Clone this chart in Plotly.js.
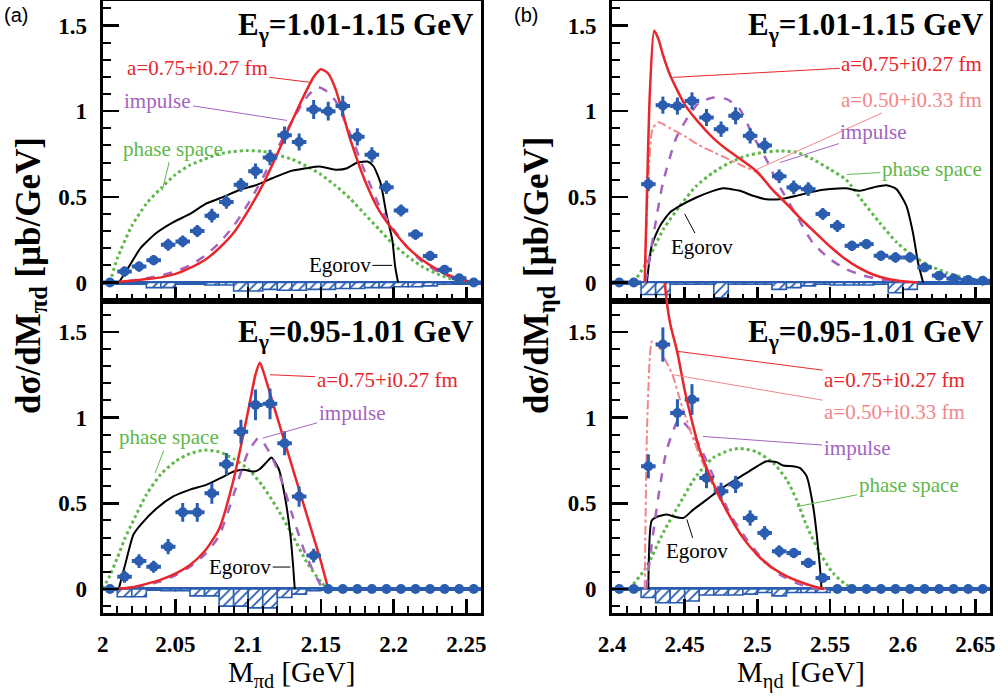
<!DOCTYPE html>
<html><head><meta charset="utf-8">
<script src="https://cdn.plot.ly/plotly-3.0.1.min.js"></script>
<style>body{margin:0;background:#fff}#plot{width:1008px;height:697px}</style>
</head><body><div id="plot"></div>
<script>
// ---------- data: bin centres ----------
const binsPi = [2.005,2.015,2.025,2.035,2.045,2.055,2.065,2.075,2.085,2.095,2.105,2.115,2.125,2.135,2.145,2.155,2.165,2.175,2.185,2.195,2.205,2.215,2.225,2.235,2.245,2.255];
const binsEta = [2.405,2.415,2.425,2.435,2.445,2.455,2.465,2.475,2.485,2.495,2.505,2.515,2.525,2.535,2.545,2.555,2.565,2.575,2.585,2.595,2.605,2.615,2.625,2.635,2.645,2.655];

// (a) upper: E=1.01-1.15 GeV
const dataA1 = [0,0.064,0.093,0.13,0.22,0.24,0.30,0.39,0.47,0.57,0.65,0.73,0.86,0.82,1.01,1.00,1.03,0.85,0.745,0.556,0.42,0.28,0.155,0.074,0.025,0];
const errA1  = [0,0.03,0.03,0.03,0.035,0.035,0.035,0.04,0.04,0.04,0.045,0.045,0.05,0.05,0.055,0.055,0.06,0.05,0.045,0.04,0.035,0.03,0.03,0.025,0.02,0];
const sysA1  = [0,0,0,0.03,0.03,0.005,0.005,0.015,0.015,0.05,0.05,0.04,0.045,0.045,0.04,0.04,0.035,0.035,0.03,0.03,0.025,0.025,0.02,0.01,0,0];
// (a) lower: E=0.95-1.01 GeV
const dataA2 = [0,0.072,0.163,0.13,0.247,0.447,0.447,0.558,0.728,0.918,1.074,1.08,0.85,0.54,0.195,0,0,0,0,0,0,0,0,0,0,0];
const errA2  = [0,0.035,0.04,0.035,0.045,0.055,0.055,0.06,0.065,0.07,0.09,0.09,0.07,0.06,0.04,0,0,0,0,0,0,0,0,0,0,0];
const sysA2  = [0,0.045,0.045,0,0.01,0.01,0.04,0.04,0.1,0.1,0.11,0.11,0.05,0.03,0.01,0,0,0,0,0,0,0,0,0,0,0];
// (b) upper
const dataB1 = [0,0,0.574,1.035,1.03,1.06,0.963,0.895,0.973,0.856,0.80,0.62,0.555,0.545,0.40,0.33,0.214,0.224,0.156,0.146,0.146,0.088,0.04,0.023,0.015,0.01];
const errB1  = [0,0,0.04,0.05,0.05,0.05,0.05,0.045,0.05,0.045,0.045,0.04,0.04,0.04,0.035,0.035,0.03,0.03,0.03,0.03,0.03,0.025,0.02,0.015,0.01,0.01];
const sysB1  = [0,0,0.07,0.07,0.01,0.01,0.01,0.09,0.01,0.01,0.01,0.04,0.03,0.02,0.01,0.015,0.015,0.015,0.01,0.06,0.04,0,0,0,0,0];
// (b) lower
const dataB2 = [0,0,0.716,1.426,1.027,1.105,0.648,0.57,0.61,0.414,0.327,0.22,0.21,0.152,0.064,0,0,0,0,0,0,0,0,0,0,0];
const errB2  = [0,0,0.07,0.1,0.08,0.09,0.06,0.05,0.05,0.045,0.04,0.035,0.03,0.03,0.025,0,0,0,0,0,0,0,0,0,0,0];
const sysB2  = [0,0,0.05,0.08,0.08,0.07,0.035,0.035,0.035,0.03,0.02,0.04,0.02,0.02,0.02,0,0,0,0,0,0,0,0,0,0,0];

// ---------- theory curves ----------
// (a) upper
const redA1x = [2.007,2.02,2.03,2.04,2.05,2.06,2.07,2.08,2.09,2.10,2.11,2.12,2.13,2.14,2.145,2.15,2.155,2.16,2.17,2.18,2.19,2.20,2.21,2.22,2.23,2.24,2.25,2.256];
const redA1y = [0,0.01,0.02,0.03,0.05,0.085,0.13,0.20,0.29,0.42,0.57,0.75,0.94,1.12,1.20,1.245,1.22,1.13,0.84,0.60,0.42,0.30,0.20,0.13,0.075,0.035,0.01,0];
const impA1x = [2.005,2.01,2.02,2.03,2.04,2.05,2.06,2.07,2.08,2.09,2.10,2.11,2.12,2.13,2.14,2.148,2.155,2.16,2.17,2.18,2.19,2.20,2.21,2.22,2.23,2.24,2.25,2.256];
const impA1y = [0,0.003,0.012,0.025,0.04,0.065,0.10,0.155,0.23,0.33,0.46,0.61,0.78,0.94,1.08,1.14,1.11,1.06,0.87,0.65,0.45,0.31,0.20,0.12,0.065,0.03,0.008,0];
const psA1x  = [2.005,2.01,2.02,2.03,2.04,2.05,2.06,2.07,2.08,2.09,2.10,2.11,2.12,2.13,2.14,2.15,2.16,2.17,2.18,2.19,2.20,2.21,2.22,2.23,2.24,2.25,2.256];
const psA1y  = [0,0.14,0.33,0.46,0.55,0.63,0.685,0.72,0.75,0.765,0.77,0.765,0.745,0.72,0.68,0.63,0.565,0.49,0.40,0.31,0.22,0.15,0.09,0.05,0.02,0.005,0];
const egA1x  = [2.011,2.015,2.02,2.026,2.037,2.048,2.06,2.071,2.083,2.094,2.106,2.117,2.129,2.14,2.149,2.161,2.168,2.175,2.182,2.186,2.191,2.195,2.199,2.201,2.203];
const egA1y  = [0,0.05,0.12,0.2,0.29,0.35,0.40,0.46,0.50,0.54,0.57,0.61,0.65,0.667,0.677,0.658,0.667,0.70,0.706,0.68,0.58,0.40,0.25,0.093,0];
// (a) lower
const redA2x = [2.01,2.02,2.03,2.04,2.05,2.06,2.07,2.08,2.09,2.10,2.105,2.108,2.11,2.12,2.13,2.14,2.15,2.155];
const redA2y = [0,0.01,0.03,0.055,0.09,0.14,0.22,0.35,0.64,1.04,1.25,1.32,1.28,1.0,0.72,0.44,0.16,0];
const impA2x = [2.01,2.02,2.03,2.04,2.05,2.06,2.07,2.08,2.09,2.10,2.107,2.11,2.115,2.12,2.125,2.13,2.14,2.15,2.152];
const impA2y = [0,0.01,0.025,0.045,0.08,0.13,0.2,0.31,0.55,0.80,0.88,0.86,0.79,0.70,0.58,0.44,0.19,0.02,0];
const psA2x  = [2.0,2.005,2.01,2.015,2.02,2.03,2.04,2.05,2.06,2.07,2.08,2.09,2.10,2.11,2.12,2.13,2.14,2.15,2.155];
const psA2y  = [0,0.08,0.18,0.29,0.38,0.55,0.67,0.745,0.79,0.81,0.80,0.76,0.70,0.60,0.47,0.32,0.16,0.04,0];
const egA2x  = [2.011,2.016,2.021,2.026,2.037,2.0485,2.06,2.071,2.083,2.09,2.097,2.104,2.108,2.113,2.116,2.121,2.125,2.129,2.131,2.132];
const egA2y  = [0,0.16,0.315,0.374,0.47,0.54,0.58,0.607,0.656,0.685,0.695,0.685,0.70,0.743,0.767,0.70,0.55,0.315,0.12,0];
// (b) upper
const redB1x = [2.4225,2.424,2.426,2.429,2.432,2.435,2.44,2.45,2.46,2.47,2.48,2.49,2.50,2.51,2.52,2.53,2.54,2.55,2.56,2.57,2.58,2.59,2.60,2.61];
const redB1y = [0,0.5,1.1,1.47,1.42,1.33,1.21,1.04,0.93,0.84,0.77,0.71,0.645,0.545,0.46,0.37,0.29,0.21,0.14,0.085,0.045,0.02,0.007,0];
const pnkB1x = [2.4225,2.425,2.428,2.432,2.44,2.45,2.46,2.47,2.48,2.49,2.50,2.51,2.52,2.53,2.54,2.55,2.56,2.57,2.58,2.59,2.60,2.61];
const pnkB1y = [0,0.6,0.9,0.935,0.90,0.855,0.80,0.76,0.72,0.68,0.64,0.545,0.46,0.375,0.29,0.21,0.14,0.085,0.045,0.02,0.007,0];
const impB1x = [2.423,2.43,2.435,2.444,2.454,2.46,2.47,2.479,2.488,2.497,2.506,2.515,2.527,2.538,2.55,2.561,2.573,2.584,2.595,2.607];
const impB1y = [0,0.35,0.58,0.84,0.99,1.05,1.08,1.07,1.01,0.856,0.72,0.564,0.39,0.233,0.136,0.078,0.04,0.02,0.008,0];
const psB1x  = [2.415,2.4238,2.4353,2.4467,2.458,2.4696,2.481,2.4926,2.504,2.5155,2.527,2.538,2.55,2.561,2.573,2.584,2.596,2.607,2.6186,2.63,2.6415,2.653,2.66];
const psB1y  = [0,0.117,0.31,0.447,0.564,0.642,0.70,0.74,0.76,0.768,0.76,0.72,0.66,0.60,0.467,0.35,0.233,0.156,0.097,0.058,0.03,0.01,0.005];
const egB1x  = [2.424,2.4273,2.433,2.44,2.4467,2.458,2.4696,2.4765,2.488,2.497,2.506,2.5155,2.527,2.538,2.55,2.561,2.5704,2.5796,2.5888,2.5956,2.6025,2.607,2.6105,2.614];
const egB1y  = [0,0.214,0.33,0.41,0.447,0.496,0.535,0.55,0.535,0.506,0.486,0.486,0.506,0.53,0.545,0.55,0.535,0.555,0.568,0.545,0.447,0.29,0.117,0];
// (b) lower
const redB2x = [2.4362,2.4375,2.44,2.445,2.45,2.455,2.46,2.47,2.48,2.49,2.50,2.51,2.52,2.53,2.54,2.546];
const redB2y = [1.80,1.69,1.55,1.38,1.16,0.98,0.82,0.61,0.44,0.30,0.20,0.125,0.075,0.04,0.012,0];
const pnkB2x = [2.4225,2.424,2.426,2.4275,2.431,2.4353,2.442,2.4467,2.4536,2.4605,2.4696,2.481,2.4926,2.504,2.5155,2.527,2.538,2.547];
const pnkB2y = [0,0.9,1.35,1.445,1.43,1.36,1.24,1.105,0.93,0.774,0.60,0.424,0.27,0.16,0.093,0.045,0.012,0];
const impB2x = [2.4235,2.4284,2.433,2.4376,2.4444,2.4467,2.4536,2.4605,2.4696,2.481,2.4926,2.504,2.5155,2.527,2.538,2.543];
const impB2y = [0,0.33,0.60,0.81,0.97,0.99,0.93,0.83,0.66,0.44,0.29,0.17,0.084,0.035,0.006,0];
const psB2x  = [2.412,2.4238,2.4353,2.4467,2.458,2.4696,2.481,2.488,2.4995,2.511,2.52,2.527,2.534,2.543,2.552,2.561,2.568];
const psB2y  = [0,0.13,0.33,0.50,0.66,0.765,0.81,0.82,0.80,0.735,0.64,0.52,0.366,0.21,0.093,0.025,0];
const egB2x  = [2.425,2.4273,2.4307,2.4376,2.4421,2.449,2.4559,2.465,2.4742,2.4834,2.4926,2.5017,2.5063,2.5132,2.5178,2.5246,2.5292,2.5338,2.5384,2.5407,2.543,2.5441];
const egB2y  = [0,0.40,0.42,0.434,0.424,0.414,0.463,0.52,0.58,0.63,0.677,0.726,0.745,0.74,0.72,0.716,0.706,0.66,0.48,0.327,0.13,0];

// ---------- text ----------
const labRed = 'a=0.75+i0.27 fm', labPink = 'a=0.50+i0.33 fm', labImp = 'impulse', labPs = 'phase space', labEg = 'Egorov';
const panelE = ['E<sub>γ</sub>=1.01-1.15 GeV', 'E<sub>γ</sub>=0.95-1.01 GeV'];

// ---------- styles ----------
const BLUE = '#2a5db0', RED = '#e8262b', PURP = '#a463bd', GRN = '#5fb84a', PINK = '#f2868a';
const serif = 'Liberation Serif, Times New Roman, serif';

function curve(x, y, xa, ya, color, dash, width) {
  return {type:'scatter', mode:'lines', x:x, y:y, xaxis:xa, yaxis:ya,
          line:{color:color, dash:dash, width:width, shape:'spline', smoothing:0.6}, hoverinfo:'skip'};
}
function sys(bins, s, xa, ya) {
  return {type:'bar', x:bins, y:s.map(v=>-v), width:0.01, xaxis:xa, yaxis:ya,
          marker:{color:'white', line:{color:BLUE, width:1.6},
                  pattern:{shape:'/', fgcolor:BLUE, bgcolor:'white', size:7, solidity:0.25}}};
}
function pts(bins, d, e, xa, ya) {
  return {type:'scatter', mode:'markers', x:bins, y:d, xaxis:xa, yaxis:ya,
          marker:{size:10, color:BLUE},
          error_x:{type:'constant', value:0.005, thickness:4, width:0, color:BLUE},
          error_y:{type:'data', array:e, thickness:3, width:0, color:BLUE}};
}

const traces = [
  sys(binsPi, sysA1, 'x', 'y'), sys(binsEta, sysB1, 'x2', 'y2'),
  sys(binsPi, sysA2, 'x3', 'y3'), sys(binsEta, sysB2, 'x4', 'y4'),
  // (a) upper
  curve(psA1x, psA1y, 'x', 'y', GRN, 'dot', 3),
  curve(egA1x, egA1y, 'x', 'y', 'black', 'solid', 2),
  curve(impA1x, impA1y, 'x', 'y', PURP, 'dash', 2.5),
  curve(redA1x, redA1y, 'x', 'y', RED, 'solid', 2.5),
  // (b) upper
  curve(psB1x, psB1y, 'x2', 'y2', GRN, 'dot', 3),
  curve(egB1x, egB1y, 'x2', 'y2', 'black', 'solid', 2),
  curve(impB1x, impB1y, 'x2', 'y2', PURP, 'dash', 2.5),
  curve(pnkB1x, pnkB1y, 'x2', 'y2', PINK, 'dashdot', 2),
  curve(redB1x, redB1y, 'x2', 'y2', RED, 'solid', 2.5),
  // (a) lower
  curve(psA2x, psA2y, 'x3', 'y3', GRN, 'dot', 3),
  curve(egA2x, egA2y, 'x3', 'y3', 'black', 'solid', 2),
  curve(impA2x, impA2y, 'x3', 'y3', PURP, 'dash', 2.5),
  curve(redA2x, redA2y, 'x3', 'y3', RED, 'solid', 2.5),
  // (b) lower
  curve(psB2x, psB2y, 'x4', 'y4', GRN, 'dot', 3),
  curve(egB2x, egB2y, 'x4', 'y4', 'black', 'solid', 2),
  curve(impB2x, impB2y, 'x4', 'y4', PURP, 'dash', 2.5),
  curve(pnkB2x, pnkB2y, 'x4', 'y4', PINK, 'dashdot', 2),
  curve(redB2x, redB2y, 'x4', 'y5', RED, 'solid', 2.5),
  pts(binsPi, dataA1, errA1, 'x', 'y'), pts(binsEta, dataB1, errB1, 'x2', 'y2'),
  pts(binsPi, dataA2, errA2, 'x3', 'y3'), pts(binsEta, dataB2, errB2, 'x4', 'y4')
];

// ---------- layout ----------
const W = 1008, H = 697;
const px = v => v / W, py = v => 1 - v / H;
const domL = [px(102.7), px(481)], domR = [px(612), px(990)];
const domT = [py(301), py(1)], domB = [py(613), py(301)];
const tickFont = {family:serif, size:23, color:'black', weight:'bold'};
function xa(dom, anchor, r0, showLabels) {
  return {domain:dom, anchor:anchor, range:[r0, r0 + 0.26], showline:true, linecolor:'black', linewidth:3, mirror:true,
          ticks:'inside', ticklen:14, tickwidth:2.5, tickcolor:'black', tick0:r0, dtick:0.05,
          minor:{ticks:'inside', ticklen:7, tickwidth:2, tickcolor:'black', dtick:0.01, tick0:r0, showgrid:false},
          showgrid:false, zeroline:false, showticklabels:showLabels, tickfont:tickFont, ticklabelstandoff:8,
          fixedrange:true};
}
function ya(dom, anchor, range) {
  return {domain:dom, anchor:anchor, range:range, showline:true, linecolor:'black', linewidth:3, mirror:true,
          ticks:'inside', ticklen:16, tickwidth:2.5, tickcolor:'black', tick0:0, dtick:0.5,
          minor:{ticks:'inside', ticklen:8, tickwidth:2, tickcolor:'black', dtick:0.1, tick0:0, showgrid:false},
          showgrid:false, zeroline:true, zerolinecolor:BLUE, zerolinewidth:4,
          tickfont:tickFont, ticklabelstandoff:8, fixedrange:true};
}
const rT = [-0.108, 1.643], rB = [-0.14, 1.68];

function lab(text, color, xref, yref, ax, ay, x, y) {
  return {text:text, font:{family:serif, size:21, color:color}, xref:xref, yref:yref, axref:xref, ayref:yref,
          x:x, y:y, ax:ax, ay:ay, showarrow:true, arrowhead:0, arrowwidth:1, arrowcolor:color, standoff:0};
}
const annotations = [
  // (a) upper
  lab(labRed, RED, 'x', 'y', 2.065, 1.25, 2.1438, 1.167),
  lab(labImp, PURP, 'x', 'y', 2.038, 1.062, 2.1267, 0.946),
  lab(labPs, GRN, 'x', 'y', 2.048, 0.782, 2.0409, 0.537),
  lab(labEg, 'black', 'x', 'y', 2.163, 0.10, 2.199, 0.10),
  // (a) lower
  lab(labRed, RED, 'x3', 'y3', 2.1955, 1.22, 2.115, 1.25),
  lab(labImp, PURP, 'x3', 'y3', 2.1715, 1.027, 2.110, 0.88),
  lab(labPs, GRN, 'x3', 'y3', 2.0456, 0.887, 2.036, 0.677),
  lab(labEg, 'black', 'x3', 'y3', 2.0945, 0.128, 2.129, 0.128),
  // (b) upper
  lab(labRed, RED, 'x2', 'y2', 2.6062, 1.273, 2.442, 1.197),
  lab(labPink, PINK, 'x2', 'y2', 2.6062, 1.068, 2.4997, 0.66),
  lab(labImp, PURP, 'x2', 'y2', 2.58, 0.876, 2.5155, 0.70),
  lab(labPs, GRN, 'x2', 'y2', 2.62, 0.66, 2.5615, 0.63),
  lab(labEg, 'black', 'x2', 'y2', 2.462, 0.21, 2.450, 0.40),
  // (b) lower
  lab(labRed, RED, 'x4', 'y4', 2.5945, 1.222, 2.4454, 1.386),
  lab(labPink, PINK, 'x4', 'y4', 2.5945, 1.03, 2.4412, 1.251),
  lab(labImp, PURP, 'x4', 'y4', 2.5686, 0.825, 2.4625, 0.89),
  lab(labPs, GRN, 'x4', 'y4', 2.604, 0.609, 2.527, 0.48),
  lab(labEg, 'black', 'x4', 'y4', 2.4584, 0.219, 2.4515, 0.406),
  // panel energy labels
  {text:'<b>'+panelE[0]+'</b>', xref:'paper', yref:'paper', x:px(476), y:py(27), xanchor:'right', yanchor:'middle', showarrow:false, font:{family:serif, size:31, color:'black'}},
  {text:'<b>'+panelE[0]+'</b>', xref:'paper', yref:'paper', x:px(986), y:py(27), xanchor:'right', yanchor:'middle', showarrow:false, font:{family:serif, size:31, color:'black'}},
  {text:'<b>'+panelE[1]+'</b>', xref:'paper', yref:'paper', x:px(476), y:py(334), xanchor:'right', yanchor:'middle', showarrow:false, font:{family:serif, size:31, color:'black'}},
  {text:'<b>'+panelE[1]+'</b>', xref:'paper', yref:'paper', x:px(986), y:py(334), xanchor:'right', yanchor:'middle', showarrow:false, font:{family:serif, size:31, color:'black'}},
  // axis titles
  {text:'<b>dσ/dM<sub>πd</sub> [μb/GeV]</b>', textangle:-90, xref:'paper', yref:'paper', x:px(30), y:py(276), xanchor:'center', yanchor:'middle', showarrow:false, font:{family:serif, size:35, color:'black'}},
  {text:'<b>dσ/dM<sub>ηd</sub> [μb/GeV]</b>', textangle:-90, xref:'paper', yref:'paper', x:px(538), y:py(276), xanchor:'center', yanchor:'middle', showarrow:false, font:{family:serif, size:35, color:'black'}},
  {text:'M<sub>πd</sub> [GeV]', xref:'paper', yref:'paper', x:px(292), y:py(674), xanchor:'center', yanchor:'middle', showarrow:false, font:{family:serif, size:29, color:'black'}},
  {text:'M<sub>ηd</sub> [GeV]', xref:'paper', yref:'paper', x:px(801), y:py(674), xanchor:'center', yanchor:'middle', showarrow:false, font:{family:serif, size:29, color:'black'}},
  {text:'(a)', xref:'paper', yref:'paper', x:px(2), y:py(15), xanchor:'left', yanchor:'middle', showarrow:false, font:{family:'Liberation Sans, Arial, sans-serif', size:20, color:'black'}},
  {text:'(b)', xref:'paper', yref:'paper', x:px(512), y:py(15), xanchor:'left', yanchor:'middle', showarrow:false, font:{family:'Liberation Sans, Arial, sans-serif', size:20, color:'black'}}
];

const layout = {
  width:W, height:H, margin:{l:0, r:0, t:0, b:0}, showlegend:false,
  paper_bgcolor:'white', plot_bgcolor:'rgba(0,0,0,0)', bargap:0,
  xaxis: xa(domL, 'y', 2.0, false),
  yaxis: ya(domT, 'x', rT),
  xaxis2: xa(domR, 'y2', 2.4, false),
  yaxis2: ya(domT, 'x2', rT),
  xaxis3: xa(domL, 'y3', 2.0, true),
  yaxis3: ya(domB, 'x3', rB),
  xaxis4: xa(domR, 'y4', 2.4, true),
  yaxis4: ya(domB, 'x4', rB),
  yaxis5: {domain:[py(613), py(283)], anchor:'x4', range:[-0.14, -0.14 + (613-283)/171.3], visible:false, fixedrange:true},
  annotations: annotations
};

Plotly.newPlot('plot', traces, layout, {displayModeBar:false, staticPlot:true});
</script>
</body></html>
